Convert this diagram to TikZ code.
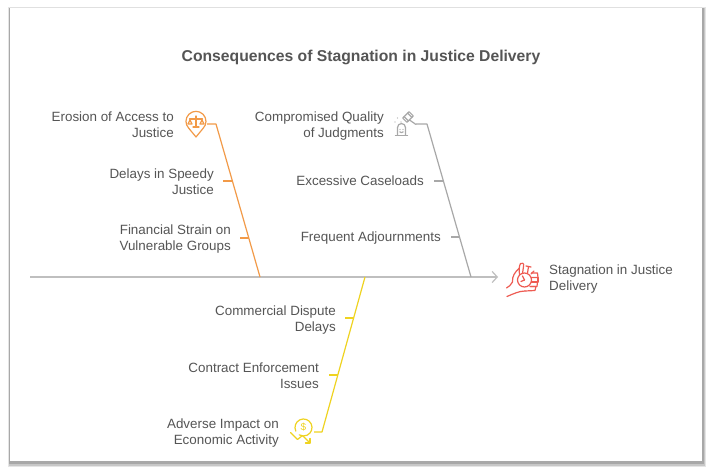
\documentclass[tikz,border=0pt]{standalone}
\usepackage{fontspec}
\setmainfont{Liberation Sans}
\usetikzlibrary{arrows.meta,calc}
\definecolor{txt}{HTML}{555555}
\definecolor{spinec}{HTML}{BFBFBF}
\definecolor{orng}{HTML}{F29A48}
\definecolor{gry}{HTML}{A8A8A8}
\definecolor{yel}{HTML}{EFD320}
\definecolor{redc}{HTML}{EE5B52}
\begin{document}
\begin{tikzpicture}[x=1pt,y=-1pt,
  lbl/.style={font=\fontsize{13.4}{16}\selectfont, text=txt, align=right, inner sep=0pt, anchor=base east},
  lblw/.style={font=\fontsize{13.4}{16}\selectfont, text=txt, align=left, inner sep=0pt, anchor=base west},
  bone/.style={line width=1.2pt, line join=round},
  tick/.style={line width=1.1pt},
  icon/.style={line width=1.2pt, line join=round, line cap=round}]
\useasboundingbox (0,0) rectangle (713,474);
\fill[white] (0,0) rectangle (713,474);
% frame with shadow
\fill[black!10] (7.5,7) rectangle (705.5,467);
\fill[black!22] (8.5,7.5) rectangle (704.5,465.5);
\fill[black!34] (9.2,8) rectangle (703.6,463.5);
\fill[white] (10,7) rectangle (702,461);
\draw[black!12, line width=0.6pt] (10,7) -- (702,7);
% title
\node[font=\bfseries\fontsize{15.7}{18}\selectfont, text=txt, inner sep=0pt, anchor=base] (title) at (361,61.5) {Consequences of Stagnation in Justice Delivery};
% spine
\coordinate (sL) at (30,277);
\coordinate (sR) at (498,277);
\draw[spinec, line width=1.2pt, -{Straight Barb[length=5pt,width=11pt,line width=1.2pt]}] (sL) -- (sR);
% effect
\node[lblw] (eff) at (549,290.5) {Stagnation in Justice\\Delivery};
% hand icon (red)
\begin{scope}[redc, icon]
  \coordinate (hc) at (524.5,280);
  \draw (hc) circle[radius=7];
  \draw (hc) -- ++(-2,-4);
  \draw (hc) -- ++(-3.5,1.5);
  \draw (527.5,273.3) -- (528.5,266.5);
  \draw (526,266) -- (531,267);
  \draw (531,274) -- (534,271);
  \draw (531.5,273) -- (537.5,273) -- (538,277.5) -- (531.5,277.5);
  \draw (531.5,277.5) -- (538,277.5) -- (538,282) -- (531.5,282);
  \draw (531.5,282) -- (537.5,282) -- (537,286.5) -- (530.5,286.5);
  \draw (530,286.5) -- (536,286.5) -- (535,290.5) -- (525,291);
  \draw (519.5,274.5) .. controls (519,270) and (519,266) .. (520.5,263.5) .. controls (522,262) and (524.5,263.5) .. (523.5,266.5) -- (522.5,273.5);
  \draw (519.5,268) .. controls (515,272) and (512,276) .. (512.5,282);
  \draw (525,291) .. controls (519,291) and (513,294) .. (507,296.5);
  \draw (512.5,282) .. controls (511,285) and (509,286.5) .. (506.5,288);
\end{scope}
% orange bone
\coordinate (oA) at (207,124);
\coordinate (oB) at (216,124);
\coordinate (oC) at (260,277);
\draw[orng, bone] (oA) -- (oB) -- (oC);
\draw[orng, tick] ($(oB)!0.3725!(oC)$) coordinate (o1) -- ++(-9,0);
\draw[orng, tick] ($(oB)!0.7451!(oC)$) coordinate (o2) -- ++(-9,0);
\node[lbl] (E1) at (174,137.2) {Erosion of Access to\\Justice};
\node[lbl] (E2) at (214,194.2) {Delays in Speedy\\Justice};
\node[lbl] (E3) at (231,250.5) {Financial Strain on\\Vulnerable Groups};
% scale pin icon
\begin{scope}[orng, icon]
  \draw (196,137) -- (188.9,128.4) arc[start angle=135, end angle=405, radius=10] -- cycle;
  \draw (189.5,119) -- (202.5,119);
  \draw (196,116) -- (196,127);
  \draw (193,127) -- (199,127);
  \draw (190,120) -- (188,124) -- (192,124) -- cycle;
  \draw (202,120) -- (200,124) -- (204,124) -- cycle;
\end{scope}
% gray bone
\coordinate (gA) at (416,124);
\coordinate (gB) at (427,124);
\coordinate (gC) at (471,277);
\draw[gry, bone] (gA) -- (gB) -- (gC);
\draw[gry, tick] ($(gB)!0.3725!(gC)$) coordinate (g1) -- ++(-9,0);
\draw[gry, tick] ($(gB)!0.7386!(gC)$) coordinate (g2) -- ++(-9,0);
\node[lbl] (G1) at (384,137.2) {Compromised Quality\\of Judgments};
\node[lbl] (G2) at (424,185.5) {Excessive Caseloads};
\node[lbl] (G3) at (441,241.5) {Frequent Adjournments};
% gavel icon
\begin{scope}[gry, icon]
  \draw[rotate around={45:(408,117)}] (403.5,114) rectangle (412.5,120);
  \draw[rotate around={45:(408,117)}] (405.5,114) -- (405.5,120);
  \draw[rotate around={45:(408,117)}] (410.5,114) -- (410.5,120);
  \draw (409.5,120) -- (416,124.5);
  \draw (397.5,135) -- (397.5,127.5) arc[start angle=180, end angle=360, radius=4] -- (405.5,135);
  \draw (395.5,135.5) -- (407.5,135.5);
  \fill (400,129.5) circle[radius=0.6];
  \fill (403,129.5) circle[radius=0.6];
  \draw (399.8,131.8) .. controls (401,133) and (402,133) .. (403.2,131.8);
  \fill (395,122) circle[radius=0.7];
  \fill (397.5,118) circle[radius=0.7];
  \fill (401,122) circle[radius=0.7];
\end{scope}
% yellow bone
\coordinate (yA) at (365,277);
\coordinate (yB) at (322,432);
\coordinate (yC) at (314,432);
\draw[yel, bone] (yA) -- (yB) -- (yC);
\draw[yel, tick] ($(yA)!0.2645!(yB)$) coordinate (y1) -- ++(-9,0);
\draw[yel, tick] ($(yA)!0.6323!(yB)$) coordinate (y2) -- ++(-9,0);
\node[lbl] (Y1) at (336,331.2) {Commercial Dispute\\Delays};
\node[lbl] (Y2) at (319,388.2) {Contract Enforcement\\Issues};
\node[lbl] (Y3) at (279,444.5) {Adverse Impact on\\Economic Activity};
% dollar icon
\begin{scope}[yel, icon]
  \coordinate (dc) at (303.5,427.5);
  \draw ($(dc)+(155:8.5)$) arc[start angle=155, end angle=480, radius=8.5];
  \node[font=\fontsize{10}{10}\selectfont, text=yel, inner sep=0pt] (dl) at (dc) {\$};
  \draw (290.5,432.5) -- (297.5,439.5) -- (302.5,435.5) -- (310,443);
  \draw (305.5,443) -- (310,443) -- (310,438.5);
\end{scope}
\end{tikzpicture}
\end{document}
